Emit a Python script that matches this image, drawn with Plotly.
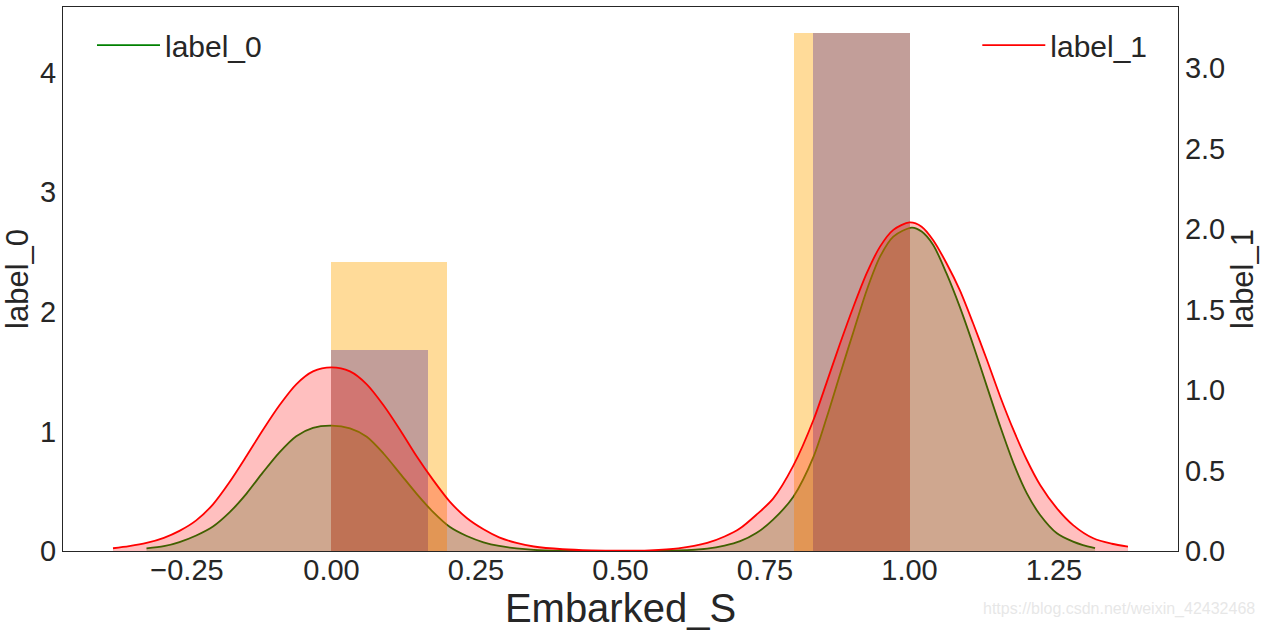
import plotly.graph_objects as go

# ---------------- data ----------------
# label_0 histogram (left axis, density), 6 bins over [0, 1]
hist0_edges = [0.0, 1/6, 2/6, 3/6, 4/6, 5/6, 1.0]
hist0_density = [1.68, 0.0, 0.0, 0.0, 0.0, 4.33]

# label_1 histogram (right axis, density), 5 bins over [0, 1]
hist1_edges = [0.0, 0.2, 0.4, 0.6, 0.8, 1.0]
hist1_density = [1.795, 0.0, 0.0, 0.0, 3.217]

# label_0 KDE (left axis)
kde0_x = [-0.32, -0.29, -0.263, -0.234, -0.205, -0.176, -0.147, -0.119, -0.090, -0.061,
          -0.032, 0.0, 0.032, 0.061, 0.090, 0.119, 0.147, 0.176, 0.205, 0.234,
          0.263, 0.29, 0.32, 0.35, 0.40, 0.45, 0.50, 0.55, 0.60, 0.65,
          0.68, 0.707, 0.735, 0.764, 0.799, 0.834, 0.857, 0.880, 0.904, 0.926,
          0.949, 0.972, 1.004, 1.021, 1.041, 1.064, 1.087, 1.111, 1.134, 1.157,
          1.180, 1.203, 1.226, 1.255, 1.283, 1.30, 1.321]
kde0_y = [0.022, 0.04, 0.075, 0.13, 0.205, 0.325, 0.48, 0.655, 0.825, 0.96,
          1.03, 1.048, 1.025, 0.955, 0.815, 0.645, 0.48, 0.325, 0.2, 0.125,
          0.073, 0.042, 0.022, 0.01, 0.003, 0.0005, 0.0, 0.0005, 0.004, 0.02,
          0.045, 0.082, 0.15, 0.262, 0.454, 0.789, 1.12, 1.48, 1.848, 2.18,
          2.46, 2.628, 2.703, 2.67, 2.558, 2.32, 2.04, 1.71, 1.374, 1.04,
          0.733, 0.482, 0.301, 0.148, 0.078, 0.05, 0.025]

# label_1 KDE (right axis)
kde1_x = [-0.378, -0.35, -0.32, -0.29, -0.263, -0.234, -0.205, -0.176, -0.147, -0.119,
          -0.090, -0.061, -0.032, 0.0, 0.032, 0.061, 0.090, 0.119, 0.147, 0.176,
          0.205, 0.234, 0.263, 0.29, 0.32, 0.35, 0.40, 0.45, 0.50, 0.55,
          0.60, 0.65, 0.68, 0.707, 0.735, 0.764, 0.799, 0.834, 0.857, 0.880,
          0.903, 0.926, 0.949, 0.972, 1.0, 1.021, 1.041, 1.064, 1.087, 1.110,
          1.134, 1.157, 1.180, 1.203, 1.226, 1.255, 1.283, 1.318, 1.35, 1.378]
kde1_y = [0.017, 0.03, 0.05, 0.082, 0.125, 0.19, 0.29, 0.43, 0.59, 0.75,
          0.905, 1.035, 1.115, 1.14, 1.115, 1.035, 0.905, 0.75, 0.59, 0.44,
          0.305, 0.205, 0.135, 0.085, 0.05, 0.028, 0.011, 0.004, 0.002, 0.004,
          0.016, 0.05, 0.09, 0.141, 0.225, 0.325, 0.53, 0.815, 1.05, 1.29,
          1.517, 1.725, 1.89, 1.994, 2.04, 2.014, 1.93, 1.787, 1.62, 1.414,
          1.186, 0.958, 0.75, 0.565, 0.41, 0.265, 0.161, 0.079, 0.045, 0.027]

series_names = ["label_0", "label_1"]
x_title = "Embarked_S"
watermark = "https://blog.csdn.net/weixin_42432468"

# ---------------- figure ----------------
FONT = "Liberation Sans, Arial, sans-serif"
TXT = "#262626"

def centers(edges):
    return [(a + b) / 2 for a, b in zip(edges[:-1], edges[1:])]

def widths(edges):
    return [b - a for a, b in zip(edges[:-1], edges[1:])]

fig = go.Figure()

# left axis: label_0
fig.add_trace(go.Bar(x=centers(hist0_edges), y=hist0_density, width=widths(hist0_edges),
                     marker=dict(color="rgba(0,0,255,0.4)", line=dict(width=0)),
                     showlegend=False, hoverinfo="skip", yaxis="y"))
fig.add_trace(go.Scatter(x=kde0_x, y=kde0_y, mode="lines", fill="tozeroy",
                         fillcolor="rgba(0,128,0,0.25)", line=dict(width=0, shape="spline", smoothing=0.8),
                         showlegend=False, hoverinfo="skip", yaxis="y"))
fig.add_trace(go.Scatter(x=kde0_x, y=kde0_y, mode="lines", name=series_names[0],
                         line=dict(color="rgb(0,128,0)", width=1.8, shape="spline", smoothing=0.8),
                         legend="legend", yaxis="y"))

# right axis: label_1
fig.add_trace(go.Bar(x=centers(hist1_edges), y=hist1_density, width=widths(hist1_edges),
                     marker=dict(color="rgba(255,165,0,0.4)", line=dict(width=0)),
                     showlegend=False, hoverinfo="skip", yaxis="y2"))
fig.add_trace(go.Scatter(x=kde1_x, y=kde1_y, mode="lines", fill="tozeroy",
                         fillcolor="rgba(255,0,0,0.25)", line=dict(width=0, shape="spline", smoothing=0.8),
                         showlegend=False, hoverinfo="skip", yaxis="y2"))
fig.add_trace(go.Scatter(x=kde1_x, y=kde1_y, mode="lines", name=series_names[1],
                         line=dict(color="rgb(255,0,0)", width=1.8, shape="spline", smoothing=0.8),
                         legend="legend2", yaxis="y2"))

axis_common = dict(showgrid=False, zeroline=False, showline=True, linecolor=TXT,
                   linewidth=1.3, ticks="", tickfont=dict(family=FONT, size=29, color=TXT))

fig.update_layout(
    width=1266, height=633,
    margin=dict(l=63, r=88, t=7, b=82),
    paper_bgcolor="white", plot_bgcolor="white",
    barmode="overlay", bargap=0,
    font=dict(family=FONT, color=TXT),
    xaxis=dict(range=[-0.4645, 1.4645], tick0=0, dtick=0.25, tickformat=".2f",
               mirror=True, ticklabelstandoff=-7,
               title=dict(text=x_title, font=dict(family=FONT, size=40, color=TXT), standoff=9),
               **axis_common),
    yaxis=dict(range=[0, 4.547], tick0=0, dtick=1, tickformat="d", mirror=True,
               title=dict(text=series_names[0], font=dict(family=FONT, size=31, color=TXT), standoff=2),
               **axis_common),
    yaxis2=dict(range=[0, 3.378], tick0=0, dtick=0.5, tickformat=".1f", overlaying="y", side="right",
                title=dict(text=series_names[1], font=dict(family=FONT, size=31, color=TXT), standoff=4),
                **axis_common),
    legend=dict(x=0.026, y=0.93, xanchor="left", yanchor="middle", bgcolor="rgba(0,0,0,0)",
                borderwidth=0, itemwidth=63, font=dict(family=FONT, size=30, color=TXT)),
    legend2=dict(x=0.82, y=0.93, xanchor="left", yanchor="middle", bgcolor="rgba(0,0,0,0)",
                 borderwidth=0, itemwidth=63, font=dict(family=FONT, size=30, color=TXT)),
    annotations=[dict(text=watermark, xref="paper", yref="paper", x=1.0709, y=-0.1066,
                      xanchor="right", yanchor="middle", showarrow=False,
                      font=dict(family=FONT, size=16, color="rgba(225,225,225,0.8)"))],
)

fig.write_html("out.html")
